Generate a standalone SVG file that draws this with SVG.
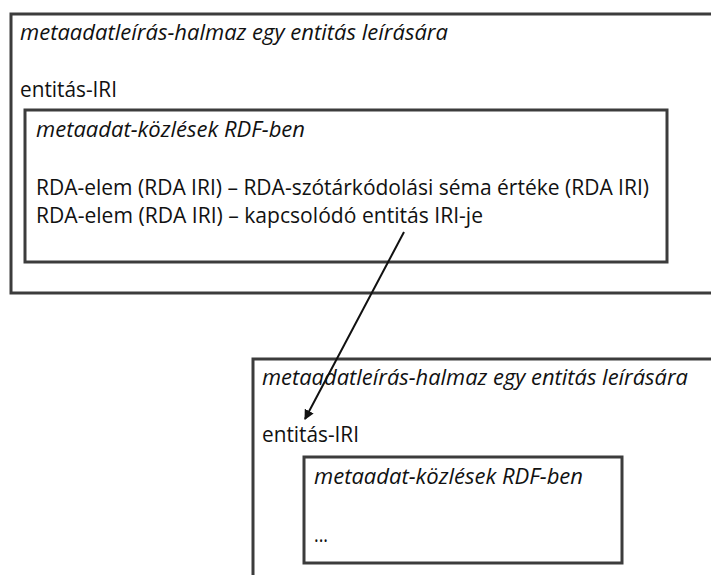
<svg xmlns="http://www.w3.org/2000/svg" width="711" height="575" viewBox="0 0 711 575">
<style>
.box{fill:none;stroke:#3c3c3c;stroke-width:3}
.t{font-family:"Open Sans","Liberation Sans",sans-serif;font-size:21px;fill:#111}
.i{font-style:italic}
.c{fill:none;stroke:#111;stroke-width:2}
</style>
<defs>
<marker id="ah" viewBox="0 0 10 10" refX="9" refY="5" markerWidth="5" markerHeight="5" orient="auto" markerUnits="strokeWidth">
<path d="M0,0 L10,5 L0,10 z" fill="#111"/>
</marker>
</defs>
<rect width="711" height="575" fill="#fff"/>
<g id="set1">
<rect class="box" x="11" y="14" width="720" height="279"/>
<text class="t i" x="20" y="40" textLength="428" lengthAdjust="spacingAndGlyphs">metaadatleírás-halmaz egy entitás leírására</text>
<text class="t" x="20" y="97" textLength="97" lengthAdjust="spacingAndGlyphs">entitás-IRI</text>
</g>
<g id="statements1">
<rect class="box" x="25" y="110" width="642" height="152"/>
<text class="t i" x="36" y="137" textLength="269" lengthAdjust="spacingAndGlyphs">metaadat-közlések RDF-ben</text>
<text class="t" x="36" y="195" textLength="613" lengthAdjust="spacingAndGlyphs">RDA-elem (RDA IRI) – RDA-szótárkódolási séma értéke (RDA IRI)</text>
<text class="t" x="36" y="223" textLength="447" lengthAdjust="spacingAndGlyphs">RDA-elem (RDA IRI) – kapcsolódó entitás IRI-je</text>
</g>
<g id="set2">
<rect class="box" x="253" y="359" width="480" height="240"/>
<text class="t i" x="262" y="385" textLength="426" lengthAdjust="spacingAndGlyphs">metaadatleírás-halmaz egy entitás leírására</text>
<text class="t" x="262" y="442" textLength="97" lengthAdjust="spacingAndGlyphs">entitás-IRI</text>
</g>
<g id="statements2">
<rect class="box" x="304" y="457" width="318" height="106"/>
<text class="t i" x="314" y="484" textLength="269" lengthAdjust="spacingAndGlyphs">metaadat-közlések RDF-ben</text>
<text class="t" x="314" y="542" textLength="14" lengthAdjust="spacingAndGlyphs">...</text>
</g>
<g id="connectors">
<line class="c" x1="404" y1="232" x2="305" y2="419" marker-end="url(#ah)"/>
</g>
</svg>
